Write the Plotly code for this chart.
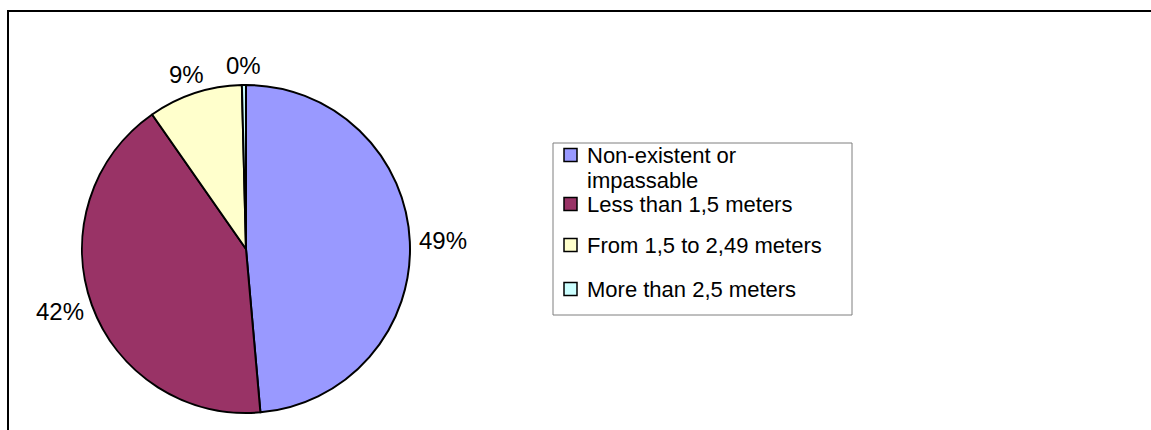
import math
import plotly.graph_objects as go

# Width of the pavement / sidewalk available, share of cases
categories = ["Non-existent or impassable", "Less than 1,5 meters",
              "From 1,5 to 2,49 meters", "More than 2,5 meters"]
legend_lines = [["Non-existent or", "impassable"], ["Less than 1,5 meters"],
                ["From 1,5 to 2,49 meters"], ["More than 2,5 meters"]]
shares = [48.6, 41.7, 9.3, 0.4]
colors = ["#9999FF", "#993366", "#FFFFCC", "#CCFFFF"]

W, H = 1151, 430
FONT = "Liberation Sans, Arial, sans-serif"
FS_PIE = 24
FS_LEG = 22

# pie box in pixels (left, top, right, bottom)
PX0, PY0, PX1, PY1 = 82, 85, 410, 413


def px(x):
    return x / W


def py(y):
    return 1 - y / H


fig = go.Figure(go.Pie(
    labels=categories,
    values=shares,
    sort=False,
    direction="clockwise",
    rotation=0,
    marker=dict(colors=colors, line=dict(color="black", width=2)),
    textinfo="none",
    hoverinfo="label+percent",
    showlegend=False,
    domain=dict(x=[px(PX0), px(PX1)], y=[py(PY1), py(PY0)]),
))

annotations = []
shapes = []

# percentage labels just outside each slice, at the slice's mid angle
cx, cy = (PX0 + PX1) / 2, (PY0 + PY1) / 2
r = min(PX1 - PX0, PY1 - PY0) / 2
total = sum(shares)
acc = 0.0
for v in shares:
    mid = (acc + v / 2) / total * 2 * math.pi
    acc += v
    s, c = math.sin(mid), math.cos(mid)
    text = f"{round(v / total * 100)}%"
    hw, hh = 0.3 * FS_PIE * len(text), 0.3 * FS_PIE
    gap = 12
    lx = cx + (r + gap) * s + hw * s
    ly = cy - (r + gap) * c - hh * c
    annotations.append(dict(
        x=px(lx), y=py(ly), xref="paper", yref="paper", text=text,
        showarrow=False, xanchor="center", yanchor="middle",
        font=dict(family=FONT, size=FS_PIE, color="black")))

# legend box with one swatch per slice
LX0, LY0, LX1, LY1 = 553, 143, 852, 315
shapes.append(dict(type="rect", xref="paper", yref="paper",
                   x0=px(LX0), x1=px(LX1), y0=py(LY1), y1=py(LY0),
                   line=dict(color="#7f7f7f", width=1), fillcolor="white",
                   layer="below"))
LINE = 25                       # line step within one entry
entry_y = [155, 204, 245, 289]  # first-line centre of each entry
for lines, yc, col in zip(legend_lines, entry_y, colors):
    shapes.append(dict(type="rect", xref="paper", yref="paper",
                       x0=px(564), x1=px(577), y0=py(yc + 6.5), y1=py(yc - 6.5),
                       line=dict(color="black", width=1.5), fillcolor=col))
    for k, t in enumerate(lines):
        annotations.append(dict(
            x=px(585), y=py(yc + k * LINE), xref="paper", yref="paper",
            text=t, showarrow=False, xanchor="left", yanchor="middle",
            font=dict(family=FONT, size=FS_LEG, color="black")))

# outer frame: top and left edges
shapes.append(dict(type="line", xref="paper", yref="paper",
                   x0=px(7), x1=1.0, y0=py(11), y1=py(11),
                   line=dict(color="black", width=2)))
shapes.append(dict(type="line", xref="paper", yref="paper",
                   x0=px(8), x1=px(8), y0=py(10), y1=0.0,
                   line=dict(color="black", width=2)))

fig.update_layout(
    width=W, height=H,
    margin=dict(l=0, r=0, t=0, b=0),
    paper_bgcolor="white",
    font=dict(family=FONT, size=FS_LEG, color="black"),
    annotations=annotations,
    shapes=shapes,
)

fig.write_html("out.html", config={"displayModeBar": False})
